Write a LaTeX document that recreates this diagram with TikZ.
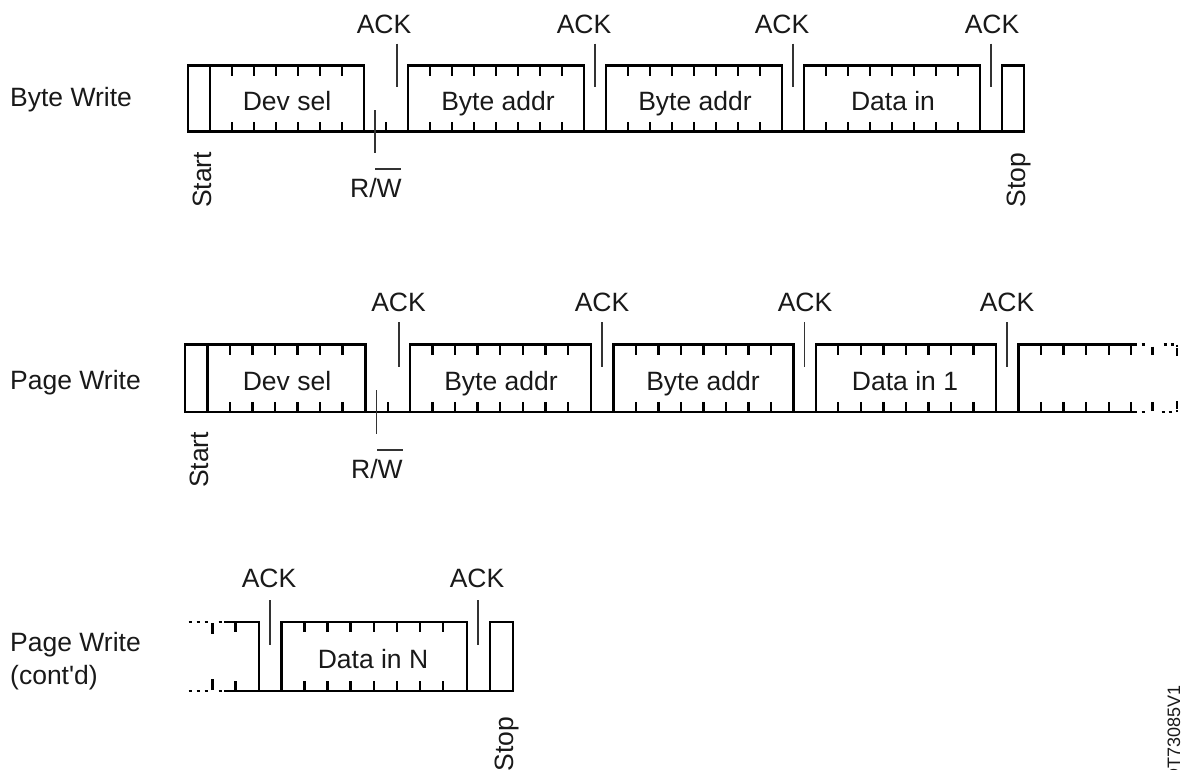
\documentclass[tikz,border=0pt]{standalone}
\usepackage{fontspec}
\setmainfont{Liberation Sans}
\newfontfamily\rawf[Ligatures=TeXOff]{Liberation Sans}
\tikzset{
  sig/.style={line width=2.4pt,black,line cap=butt},
  thinline/.style={line width=1.5pt,black!80},
  lbl/.style={font=\fontsize{26.5}{28}\selectfont,anchor=base,inner sep=0pt,text=black!90},
  leftlbl/.style={font=\fontsize{26.5}{28}\selectfont,anchor=base west,inner sep=0pt,text=black!90},
  vlbl/.style={font=\fontsize{26.5}{28}\selectfont,anchor=base,inner sep=0pt,rotate=90,text=black!90}
}
\newcommand{\tickrow}[5]{%
  \foreach \k in {#1}{
    \draw[sig] (\k*#2+#3,#4) -- ++(0,10);
    \draw[sig] (\k*#2+#3,#5) -- ++(0,-10);
  }}
\begin{document}
\begin{tikzpicture}[x=1pt,y=-1pt]
\useasboundingbox (0,0) rectangle (1186,769);
% ---------- Row 1
\def\T{65.5}\def\B{131.5}
\draw[sig] (187,\B) -- (1025,\B);
\draw[sig] (188,\B) -- (188,\T) -- (364,\T) -- (364,\B);
\draw[sig] (210,\T) -- (210,\B);
\draw[sig] (408,\B) -- (408,\T) -- (584,\T) -- (584,\B);
\draw[sig] (606,\B) -- (606,\T) -- (782,\T) -- (782,\B);
\draw[sig] (804,\B) -- (804,\T) -- (980,\T) -- (980,\B);
\draw[sig] (1002,\B) -- (1002,\T) -- (1024,\T) -- (1024,\B);
\tickrow{1,...,6}{22}{210}{\T}{\B}
\tickrow{1,...,7}{22}{408}{\T}{\B}
\tickrow{1,...,7}{22}{606}{\T}{\B}
\tickrow{1,...,7}{22}{804}{\T}{\B}
\draw[sig] (386,\B) -- ++(0,-10);
\foreach \x in {397,595,793,991}{\draw[thinline] (\x,43.5) -- (\x,87);}
\draw[thinline] (375,110) -- (375,153);
\draw[thinline] (375,169) -- (401,169);
\node[leftlbl] (l1) at (10,106) {Byte Write};
\node[lbl] (d1) at (287,110) {Dev sel};
\node[lbl] (b1) at (498,110) {Byte addr};
\node[lbl] (b2) at (695,110) {Byte addr};
\node[lbl] (d2) at (893,110) {Data in};
\node[lbl] (a1) at (384,33) {ACK};
\node[lbl] (a2) at (584,33) {ACK};
\node[lbl] (a3) at (782,33) {ACK};
\node[lbl] (a4) at (992,33) {ACK};
\node[lbl] (rw1) at (376,197.5) {R/W};
\node[vlbl] (s1) at (211,180) {Start};
\node[vlbl] (st1) at (1025,180) {Stop};
% ---------- Row 2
\def\T{344.5}\def\B{412}
\draw[sig] (184,\B) -- (1137,\B);
\draw[sig] (185,\B) -- (185,\T) -- (365.3,\T) -- (365.3,\B);
\draw[sig] (207.3,\T) -- (207.3,\B);
\draw[sig] (410,\B) -- (410,\T) -- (590.7,\T) -- (590.7,\B);
\draw[sig] (613.3,\B) -- (613.3,\T) -- (793.3,\T) -- (793.3,\B);
\draw[sig] (815.7,\B) -- (815.7,\T) -- (996,\T) -- (996,\B);
\draw[sig] (1018.5,\B) -- (1018.5,\T) -- (1137,\T);
\tickrow{1,...,6}{22.55}{207.3}{\T}{\B}
\tickrow{1,...,7}{22.55}{410}{\T}{\B}
\tickrow{1,...,7}{22.55}{613.3}{\T}{\B}
\tickrow{1,...,7}{22.55}{815.7}{\T}{\B}
\tickrow{1,...,5}{22.55}{1018.5}{\T}{\B}
\draw[sig] (387.8,\B) -- ++(0,-10);
\foreach \x in {399,602,804.3,1007}{\draw[thinline] (\x,322) -- (\x,367);}
\draw[thinline] (376.7,390) -- (376.7,434.3);
\draw[thinline] (377,450) -- (403,450);
% dotted continuation, right
\foreach \x in {1143,1165,1172}{\draw[sig] (\x-1.5,\T) -- ++(3,0);}
\foreach \x in {1143,1163,1170}{\draw[sig] (\x-1.5,\B) -- ++(3,0);}
\draw[sig] (1152.5,\T+2) -- ++(0,8);
\draw[sig] (1177,\T) -- ++(0,2) ++(0,1.5) -- ++(0,8);
\draw[sig] (1152.5,\B-1) -- ++(0,-9);
\draw[sig] (1177,\B) -- ++(0,-2) ++(0,-1) -- ++(0,-8);
\node[leftlbl] (l2) at (10,389) {Page Write};
\node[lbl] (d3) at (287,390) {Dev sel};
\node[lbl] (b3) at (501,390) {Byte addr};
\node[lbl] (b4) at (703,390) {Byte addr};
\node[lbl] (d4) at (905,390) {Data in 1};
\node[lbl] (a5) at (398.5,311) {ACK};
\node[lbl] (a6) at (602,311) {ACK};
\node[lbl] (a7) at (805,311) {ACK};
\node[lbl] (a8) at (1007,311) {ACK};
\node[lbl] (rw2) at (377,478) {R/W};
\node[vlbl] (s2) at (208.5,460) {Start};
% ---------- Row 3
\def\T{622}\def\B{691}
\draw[sig] (224,\B) -- (514,\B);
\draw[sig] (224,\T) -- (259,\T) -- (259,\B);
\draw[sig] (281.3,\B) -- (281.3,\T) -- (467,\T) -- (467,\B);
\draw[sig] (490,\B) -- (490,\T) -- (513,\T) -- (513,\B);
\tickrow{1,...,7}{23.1}{281.3}{\T}{\B}
\draw[sig] (235.5,\T) -- ++(0,10);
\draw[sig] (235.5,\B) -- ++(0,-10);
\foreach \x in {190,198,206,220}{\draw[sig] (\x-1.5,\T) -- ++(3,0);}
\foreach \x in {190,198,206,220}{\draw[sig] (\x-1.5,\B) -- ++(3,0);}
\draw[sig] (212.5,\T+1) -- ++(0,11);
\draw[sig] (212.5,\B-1) -- ++(0,-11);
\foreach \x in {270,478}{\draw[thinline] (\x,600) -- (\x,645);}
\node[leftlbl] (l3) at (10,651) {Page Write};
\node[leftlbl] (l4) at (10,684) {\rawf(cont'd)};
\node[lbl] (d5) at (373,668) {Data in N};
\node[lbl] (a9) at (269,587) {ACK};
\node[lbl] (a10) at (477,587) {ACK};
\node[vlbl] (st2) at (513.5,744) {Stop};
\node[font=\fontsize{18}{20}\selectfont,rotate=90,anchor=base east,inner sep=0pt,text=black!90] (id) at (1180,685) {DT73085V1};
\end{tikzpicture}
\end{document}
